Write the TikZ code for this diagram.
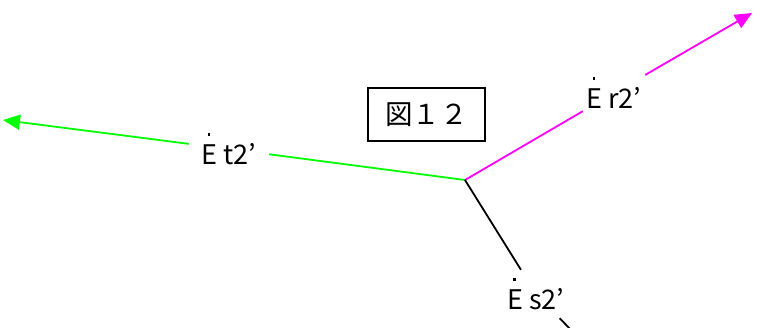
\documentclass[tikz,border=0pt]{standalone}
\usepackage{fontspec}
\setmainfont{Noto Sans CJK JP}
\usetikzlibrary{arrows.meta}
\definecolor{vgreen}{RGB}{0,255,0}
\definecolor{vmag}{RGB}{255,0,255}
\newcommand\dotE{\makebox[0pt][l]{\hspace{0.22em}\raisebox{1.05em}{\rule{2.8pt}{2.8pt}}}E\hspace{0.22em}}
\tikzset{
  vec/.style={line width=1.8pt},
  vlabel/.style={inner sep=0pt, font=\fontsize{27}{27}\selectfont},
  tip/.style={-{Triangle[length=17pt,width=15pt]}},
}
\begin{document}
\begin{tikzpicture}[x=1pt,y=-1pt]
\useasboundingbox (0,0) rectangle (763,327);
\coordinate (O) at (465,180);
\coordinate (T) at (3,120);
\coordinate (R) at (752,13);
\coordinate (S) at (575,334);
\node[draw, line width=1.3pt, minimum width=117pt, minimum height=53pt, inner sep=0pt,
      font=\fontsize{27.5}{27.5}\selectfont] (fig) at (426.5,114.5) {図１２};
\node[vlabel, minimum width=80pt, minimum height=30pt] (Et) at (229,149) {\dotE t2’};
\node[vlabel, minimum width=62pt, minimum height=40pt] (Er) at (614,93) {\dotE r2’};
\node[vlabel, minimum width=60pt, minimum height=48pt] (Es) at (536,294) {\dotE s2’};
\draw[vec, vgreen] (O) -- (Et);
\draw[vec, vgreen, tip] (Et) -- (T);
\draw[vec, vmag] (O) -- (Er);
\draw[vec, vmag, tip] (Er) -- (R);
\draw[vec, black] (O) -- (Es);
\draw[vec, black] (Es) -- (S);
\end{tikzpicture}
\end{document}
